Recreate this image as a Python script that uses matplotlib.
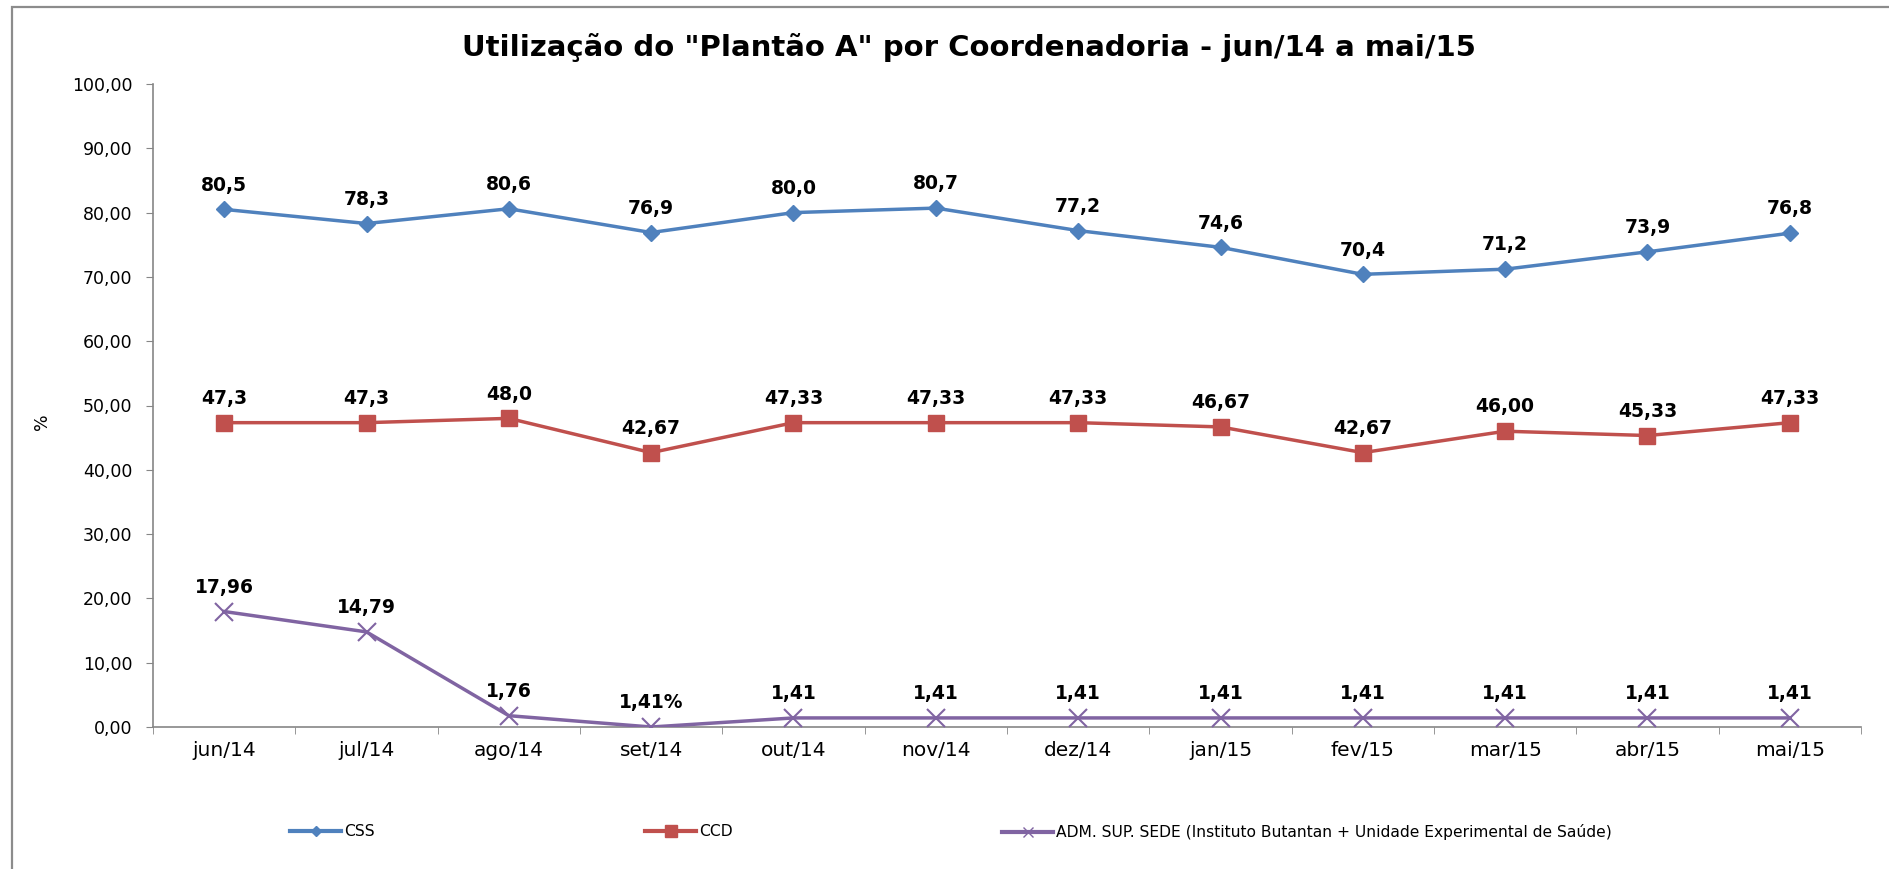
import numpy as np
import matplotlib
matplotlib.use('Agg')
import matplotlib.pyplot as plt
from matplotlib.lines import Line2D
from matplotlib.patches import Rectangle

months = ['jun/14', 'jul/14', 'ago/14', 'set/14', 'out/14', 'nov/14',
          'dez/14', 'jan/15', 'fev/15', 'mar/15', 'abr/15', 'mai/15']

css = [80.5, 78.3, 80.6, 76.9, 80.0, 80.7, 77.2, 74.6, 70.4, 71.2, 73.9, 76.8]
css_labels = ['80,5', '78,3', '80,6', '76,9', '80,0', '80,7', '77,2', '74,6',
              '70,4', '71,2', '73,9', '76,8']

ccd = [47.33, 47.33, 48.0, 42.67, 47.33, 47.33, 47.33, 46.67, 42.67, 46.0, 45.33, 47.33]
ccd_labels = ['47,3', '47,3', '48,0', '42,67', '47,33', '47,33', '47,33', '46,67',
              '42,67', '46,00', '45,33', '47,33']

adm = [17.96, 14.79, 1.76, 0.0, 1.41, 1.41, 1.41, 1.41, 1.41, 1.41, 1.41, 1.41]
adm_labels = ['17,96', '14,79', '1,76', '1,41%', '1,41', '1,41', '1,41', '1,41',
              '1,41', '1,41', '1,41', '1,41']

yticks = [0, 10, 20, 30, 40, 50, 60, 70, 80, 90, 100]
ytick_labels = ['0,00', '10,00', '20,00', '30,00', '40,00', '50,00', '60,00',
                '70,00', '80,00', '90,00', '100,00']

legend_names = ['CSS', 'CCD', 'ADM. SUP. SEDE (Instituto Butantan + Unidade Experimental de Saúde)']

c_css = '#4F81BD'
c_ccd = '#C0504D'
c_adm = '#8064A2'
grey = '#868686'

W, H = 1890, 869
fig = plt.figure(figsize=(W / 100, H / 100), dpi=100)
ax = fig.add_axes([153 / W, 1 - 727 / H, (1861 - 153) / W, (727 - 84) / H])

x = np.arange(len(months))
ax.plot(x, css, color=c_css, lw=2.5, marker='D', ms=8.5, zorder=3)
ax.plot(x, ccd, color=c_ccd, lw=2.5, marker='s', ms=11, zorder=3)
ax.plot(x, adm, color=c_adm, lw=2.5, marker='x', ms=13, mew=1.5, zorder=3)

for vals, labs in [(css, css_labels), (ccd, ccd_labels), (adm, adm_labels)]:
    for xi, v, s in zip(x, vals, labs):
        ax.annotate(s, (xi, v), xytext=(0, 17.5), textcoords='offset points',
                    ha='center', va='center', fontsize=13.5, fontweight='bold',
                    color='black')

ax.set_xlim(-0.5, len(months) - 0.5)
ax.set_ylim(0, 100)
ax.set_yticks(yticks)
ax.set_yticklabels(ytick_labels, fontsize=12.5)
ax.set_xticks(x)
ax.set_xticklabels(months, fontsize=14.5)
ax.set_xticks(np.arange(-0.5, len(months)), minor=True)
ax.tick_params(axis='x', which='major', length=0, pad=10)
ax.tick_params(axis='x', which='minor', length=5, color=grey, direction='out')
ax.tick_params(axis='y', length=5, color=grey, direction='out', pad=10)
for side in ['top', 'right']:
    ax.spines[side].set_visible(False)
for side in ['left', 'bottom']:
    ax.spines[side].set_color(grey)
    ax.spines[side].set_linewidth(1.2)

fig.text(42 / W, 1 - 422 / H, '%', rotation=90, ha='center', va='center', fontsize=12.5)
fig.text(969 / W, 1 - 48 / H, 'Utilização do "Plantão A" por Coordenadoria - jun/14 a mai/15',
         ha='center', va='center', fontsize=21, fontweight='bold')

# legend entries placed like the original (one per slot)
handles = [Line2D([], [], color=c_css, lw=3, marker='D', ms=5),
           Line2D([], [], color=c_ccd, lw=3, marker='s', ms=8),
           Line2D([], [], color=c_adm, lw=3, marker='x', ms=7, mew=1)]
starts = [290, 645, 1002]
for h, name, xs in zip(handles, legend_names, starts):
    fig.legend([h], [name], loc='center left', bbox_to_anchor=(xs / W, 1 - 832 / H),
               frameon=False, fontsize=11.2, handlelength=3.3, handletextpad=0.2,
               borderpad=0, borderaxespad=0)

# chart border
fig.patches.append(Rectangle((12 / W, -0.2), 1.2, 1.2 - 7 / H, transform=fig.transFigure,
                             fill=False, edgecolor='#8c8c8c', lw=1.6))

fig.savefig('out.png', dpi=100)
